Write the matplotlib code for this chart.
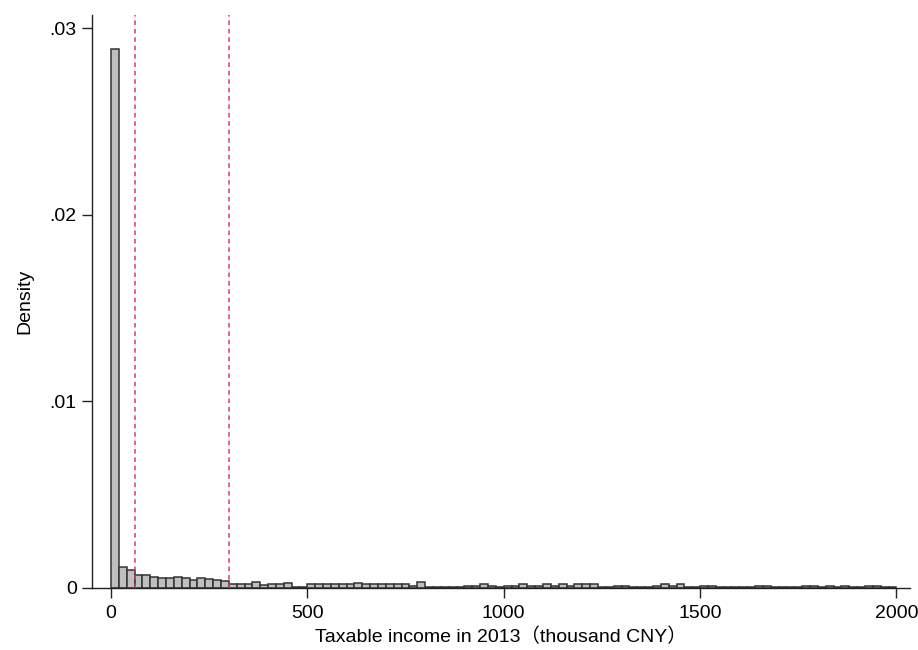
import numpy as np
import matplotlib
matplotlib.use("Agg")
import matplotlib.pyplot as plt

# histogram of taxable income, bins of 20 thousand CNY from 0 to 2000
bin_width = 20
bin_left = np.arange(0, 2000, bin_width)
density = [
    0.0289, 0.00113, 0.00098, 0.00068, 0.00068, 0.00059, 0.00052, 0.00052, 0.00061, 0.00052,
    0.00043, 0.00052, 0.00047, 0.00043, 0.00037, 0.0002, 0.0002, 0.0002, 0.00033, 0.00015,
    0.0002, 0.0002, 0.00027, 0.00005, 0.00005, 0.0002, 0.0002, 0.0002, 0.0002, 0.0002,
    0.0002, 0.00027, 0.0002, 0.0002, 0.0002, 0.0002, 0.0002, 0.0002, 0.0001, 0.0003,
    0.00004, 0.00004, 0.00004, 0.00004, 0.00004, 0.0001, 0.0001, 0.0002, 0.0001, 0.00004,
    0.00008, 0.0001, 0.0002, 0.0001, 0.0001, 0.0002, 0.0001, 0.0002, 0.0001, 0.0002,
    0.0002, 0.0002, 0.00004, 0.00004, 0.0001, 0.0001, 0.00004, 0.00004, 0.00004, 0.0001,
    0.0002, 0.0001, 0.0002, 0.00005, 0.00005, 0.00008, 0.0001, 0.00003, 0.00003, 0.00003,
    0.00003, 0.00003, 0.0001, 0.0001, 0.00003, 0.00003, 0.00003, 0.00003, 0.0001, 0.00008,
    0.00003, 0.0001, 0.00003, 0.0001, 0.00003, 0.00003, 0.0001, 0.0001, 0.00003, 0.00003,
]
cutoffs = [60, 300]
x_ticks = [0, 500, 1000, 1500, 2000]
y_ticks = [0, 0.01, 0.02, 0.03]
y_tick_labels = ["0", ".01", ".02", ".03"]

fam = ["Liberation Sans", "Noto Sans CJK SC", "DejaVu Sans"]
plt.rcParams["font.family"] = fam

fig = plt.figure(figsize=(9.18, 6.5), dpi=100)
ax = fig.add_axes([0.1002, 0.0954, 0.8911, 0.8815])

ax.bar(bin_left, density, width=bin_width, align="edge",
       color="#bfbfbf", edgecolor="#333333", linewidth=1.1, zorder=2)

for c in cutoffs:
    ax.axvline(c, color="#d93a62", linestyle=(0, (3, 2.5)), linewidth=1.1, zorder=3)

ax.set_xlim(-48.4, 2034.6)
ax.set_ylim(0, 0.03072)
ax.set_xticks(x_ticks)
ax.set_yticks(y_ticks)
ax.set_yticklabels(y_tick_labels)

for s in ["top", "right"]:
    ax.spines[s].set_visible(False)
for s in ["left", "bottom"]:
    ax.spines[s].set_linewidth(1.0)
    ax.spines[s].set_color("#222222")

ax.tick_params(axis="both", labelsize=14, length=7, width=1.0, color="#222222")
ax.tick_params(axis="x", pad=5)
ax.tick_params(axis="y", pad=4)

ax.set_xlabel("Taxable income in 2013（thousand CNY）", fontsize=14, labelpad=4)
ax.set_ylabel("Density", fontsize=14, labelpad=12)

fig.savefig("out.png", dpi=100)
